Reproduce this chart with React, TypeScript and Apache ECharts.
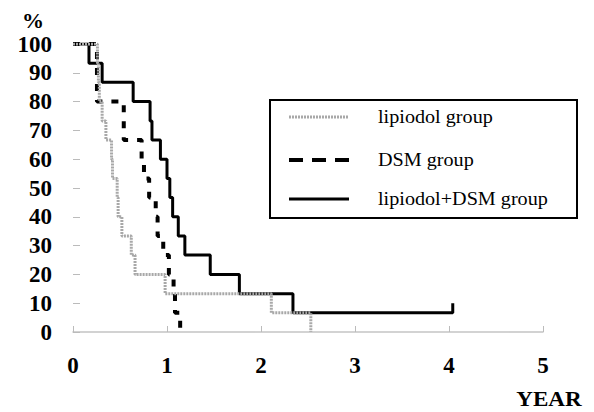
import React, { useEffect, useRef } from "react";
import * as echarts from "echarts";

const xTicks = [0, 1, 2, 3, 4, 5];
const yTicks = [0, 10, 20, 30, 40, 50, 60, 70, 80, 90, 100];

const seriesNames = ["lipiodol group", "DSM group", "lipiodol+DSM group"];

// [years, survival %]; each point is where the curve steps to a new value
const lipiodol: [number, number][] = [
  [0, 100], [0.26, 93.3], [0.27, 86.7], [0.28, 80], [0.31, 73.3], [0.35, 66.7],
  [0.41, 60], [0.42, 53.3], [0.47, 46.7], [0.48, 40], [0.52, 33.3], [0.62, 26.7],
  [0.66, 20], [0.98, 13.3], [2.11, 6.7], [2.53, 0],
];

const dsm: [number, number][] = [
  [0, 100], [0.255, 80], [0.54, 66.7], [0.73, 60], [0.755, 53.3], [0.81, 46.7],
  [0.88, 40], [0.9, 33.3], [0.96, 26.7], [1.02, 20], [1.07, 13.3], [1.085, 6.7],
  [1.14, 0],
];

const combined: [number, number][] = [
  [0, 100], [0.17, 93.3], [0.31, 86.7], [0.64, 80], [0.82, 73.3], [0.84, 66.7],
  [0.93, 60], [1.0, 53.3], [1.03, 46.7], [1.06, 40], [1.12, 33.3], [1.19, 26.7],
  [1.46, 20], [1.77, 13.3], [2.34, 6.7], [4.04, 6.7], [4.04, 10],
];

const shownYTicks = [100, 70, 30, 20, 10];

const SERIF = "Liberation Serif, Times New Roman, serif";

export default function App() {
  const ref = useRef<HTMLDivElement>(null);
  useEffect(() => {
    if (!ref.current) return;
    const chart = echarts.init(ref.current, null, { renderer: "svg" });
    const legendRows = [
      { y: 117, name: seriesNames[0], style: { stroke: "#a8a8a8", lineWidth: 3, lineDash: [2, 1] } },
      { y: 160, name: seriesNames[1], style: { stroke: "#000", lineWidth: 4, lineDash: [14, 9] } },
      { y: 199, name: seriesNames[2], style: { stroke: "#000", lineWidth: 3 } },
    ];
    chart.setOption({
      animation: false,
      backgroundColor: "#fff",
      grid: { left: 73, right: 51, top: 44, bottom: 80, containLabel: false },
      xAxis: {
        type: "value",
        min: 0,
        max: 5,
        interval: 1,
        axisLine: { show: true, lineStyle: { color: "#c4c4c4", width: 1.5 } },
        axisTick: { show: true, inside: true, length: 6, lineStyle: { color: "#bbbbbb" } },
        splitLine: { show: false },
        axisLabel: {
          margin: 22,
          fontFamily: SERIF,
          fontWeight: "bold",
          fontSize: 23,
          color: "#000",
          formatter: (v: number) => (xTicks.includes(v) ? String(v) : ""),
        },
      },
      yAxis: {
        type: "value",
        min: 0,
        max: 100,
        interval: 10,
        axisLine: { show: false },
        axisTick: {
          show: true,
          inside: true,
          length: 7,
          lineStyle: { color: "#bbbbbb" },
          interval: (i: number, v: any) => shownYTicks.includes(Number(v)),
        },
        splitLine: { show: false },
        axisLabel: {
          margin: 21,
          fontFamily: SERIF,
          fontWeight: "bold",
          fontSize: 23,
          color: "#000",
          formatter: (v: number) => (yTicks.includes(v) ? String(v) : ""),
        },
      },
      series: [
        {
          name: seriesNames[2],
          type: "line",
          step: "end",
          data: combined,
          symbol: "none",
          z: 2,
          lineStyle: { color: "#000", width: 3 },
        },
        {
          name: seriesNames[1],
          type: "line",
          step: "end",
          data: dsm,
          symbol: "none",
          z: 3,
          lineStyle: { color: "#000", width: 4, type: [7, 9] },
        },
        {
          name: seriesNames[0],
          type: "line",
          step: "end",
          data: lipiodol,
          symbol: "none",
          z: 4,
          lineStyle: { color: "#a8a8a8", width: 3, type: [2, 1] },
        },
      ],
      graphic: [
        {
          type: "text",
          left: 22,
          top: 9,
          style: { text: "%", fontFamily: SERIF, fontWeight: "bold", fontSize: 22, fill: "#000" },
        },
        {
          type: "text",
          x: 549,
          y: 399,
          style: {
            text: "YEAR",
            fontFamily: SERIF,
            fontWeight: "bold",
            fontSize: 21,
            fill: "#000",
            align: "center",
            verticalAlign: "middle",
          },
          scaleX: 1.1,
        },
        {
          type: "group",
          children: [
            {
              type: "rect",
              shape: { x: 270, y: 100, width: 307, height: 118 },
              style: { fill: "#fff", stroke: "#000", lineWidth: 2 },
            },
            ...legendRows.map((r) => ({
              type: "line",
              shape: { x1: 289, y1: r.y, x2: 349, y2: r.y },
              style: r.style,
            })),
            ...legendRows.map((r) => ({
              type: "text",
              x: 378,
              y: r.y,
              scaleX: 1.12,
              style: {
                text: r.name,
                fontFamily: SERIF,
                fontSize: 18,
                fill: "#000",
                align: "left",
                verticalAlign: "middle",
              },
            })),
          ],
        },
      ],
    });
    return () => chart.dispose();
  }, []);
  return (
    <div
      ref={ref}
      style={{ position: "fixed", left: 0, top: 0, width: 594, height: 412 }}
    />
  );
}
